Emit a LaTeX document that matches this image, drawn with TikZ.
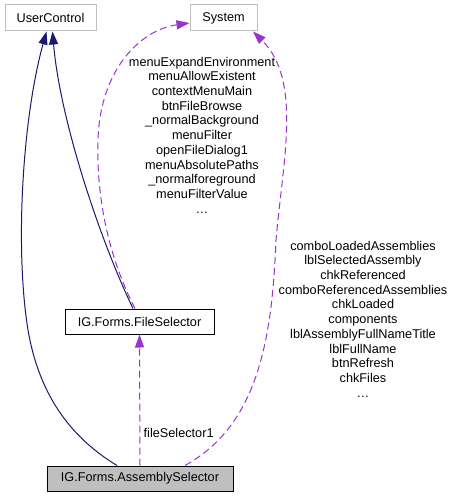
\documentclass[tikz,border=0pt]{standalone}
\usepackage{fontspec}
\setmainfont{Liberation Sans}
\usetikzlibrary{arrows.meta,positioning}
\definecolor{edgenavy}{HTML}{191970}
\definecolor{edgeorchid}{HTML}{9A32CD}
\definecolor{boxgray}{HTML}{BFBFBF}
\tikzset{
  classbox/.style={
    draw=black,
    fill=white,
    line width=1pt,
    minimum height=25pt,
    inner sep=0pt,
    font=\fontsize{12.7}{14.7}\selectfont
  },
  externbox/.style={
    classbox,
    draw=boxgray,
    minimum height=26pt
  },
  mainbox/.style={
    classbox,
    fill=boxgray
  },
  memberlist/.style={
    align=center,
    inner sep=0pt,
    font=\fontsize{12.7}{14.7}\selectfont
  },
  inherit/.style={
    -{Triangle[length=13pt,width=9pt]},
    line width=1pt,
    draw=edgenavy
  },
  usage/.style={
    -{Triangle[length=13pt,width=9pt]},
    line width=1pt,
    draw=edgeorchid,
    dash pattern=on 7pt off 4pt
  }
}
\begin{document}
\begin{tikzpicture}[x=1pt,y=-1pt]
\useasboundingbox (0,0) rectangle (453,497);
% classes
\node[externbox, minimum width=91pt] (usercontrol) at (50.5,18) {UserControl};
\node[externbox, minimum width=67pt] (system) at (223.5,18) {System};
\node[classbox, minimum width=149pt] (fileselector) at (139.5,321.5) {IG.Forms.FileSelector};
\node[mainbox, minimum width=186pt] (assemblyselector) at (140,478.5) {IG.Forms.AssemblySelector};
% member names
\node[memberlist] (fsmembers) at (202,135) {menuExpandEnvironment\\menuAllowExistent\\contextMenuMain\\btnFileBrowse\\\_normalBackground\\menuFilter\\openFileDialog1\\menuAbsolutePaths\\\_normalforeground\\menuFilterValue\\\dots};
\node[memberlist] (asmembers) at (363,319) {comboLoadedAssemblies\\lblSelectedAssembly\\chkReferenced\\comboReferencedAssemblies\\chkLoaded\\components\\lblAssemblyFullNameTitle\\lblFullName\\btnRefresh\\chkFiles\\\dots};
% inheritance
\draw[inherit] ([xshift=-23pt]assemblyselector.north) .. controls (75,440) and (40,400) .. (28,330)
  .. controls (15,250) and (22,120) .. ([xshift=-4pt]usercontrol.south);
\draw[inherit] ([xshift=-6.5pt]fileselector.north) .. controls (100,240) and (60,120) .. ([xshift=2pt]usercontrol.south);
% usage
\draw[usage] ([xshift=-4.5pt]fileselector.north) .. controls (110,260) and (96,200) .. (98,140)
  .. controls (100,70) and (140,30) .. ([yshift=-5pt]system.west);
\draw[usage] (assemblyselector.north) -- node[right, pos=0.25, font=\fontsize{12.7}{14.7}\selectfont, xshift=0pt] {fileSelector1} (fileselector.south);
\draw[usage] ([xshift=45pt]assemblyselector.north) .. controls (258,425) and (272,340) .. (276,240)
  .. controls (283,160) and (302,80) .. ([xshift=29.5pt]system.south);
\end{tikzpicture}
\end{document}
